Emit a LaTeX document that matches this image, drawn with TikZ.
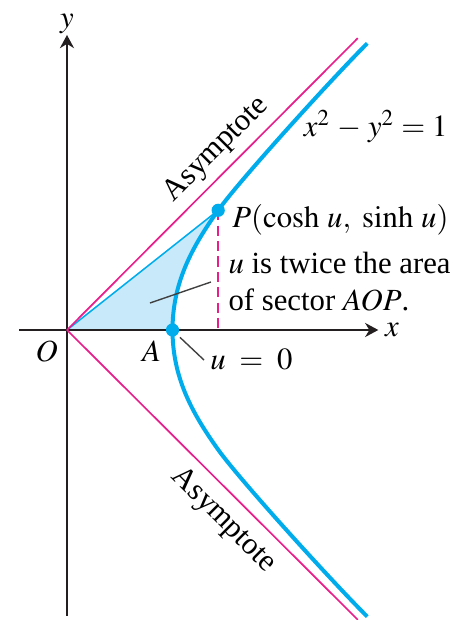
\documentclass[tikz,border=0pt]{standalone}
\usepackage{mathptmx}
\usepackage{fontspec}
\setmainfont{Liberation Serif}
\usepackage{tikz}
\usetikzlibrary{arrows.meta, calc}
\usepackage{xcolor}
\definecolor{hypblue}{RGB}{0,172,236}
\definecolor{asympink}{RGB}{232,30,140}
\definecolor{sectorblue}{RGB}{200,233,250}
\definecolor{axisgray}{RGB}{35,31,32}

% right branch of x^2 - y^2 = 1, from the bottom end through A and P to the top end
\newcommand{\hypcurve}{(2.86,-2.73) .. controls (2.506,-2.376) and (1.643,-1.424) .. (1.44,-1.14)
  .. controls (1.19,-0.79) and (1.005,-0.45) .. (1.005,0)
  .. controls (1.005,0.45) and (1.19,0.79) .. (1.44,1.14)
  .. controls (1.643,1.424) and (2.506,2.376) .. (2.86,2.73)}

\begin{document}
\begin{tikzpicture}[x=1.2cm, y=1.2cm, font=\normalsize,
  axis/.style={axisgray, line width=0.5pt, -{Stealth[length=4.3pt, width=4.6pt]}},
  asym/.style={asympink, line width=0.55pt},
  hyp/.style={hypblue, line width=1.3pt},
  dot/.style={circle, fill=hypblue, inner sep=0pt, minimum size=4.3pt},
  leader/.style={black!75, line width=0.45pt}]
  \useasboundingbox (-0.638,-2.762) rectangle (3.733,3.143);
  \coordinate (O) at (0,0);
  \coordinate (A) at (1.005,0);
  \coordinate (P) at (1.44,1.14);
  % sector AOP: the triangle O-P-foot cut down to the left side of the branch
  \begin{scope}
    \clip (O) -- (P) -- (P |- O) -- cycle;
    \fill[sectorblue] \hypcurve -- (O) -- cycle;
  \end{scope}
  \draw[hypblue, line width=0.5pt] (O) -- (P);

  \coordinate (xl) at (-0.457,0);
  \coordinate (xr) at (2.965,0);
  \coordinate (yb) at (0,-2.72);
  \coordinate (yt) at (0,2.81);
  \draw[axis] (xl) -- (xr) node[right, inner sep=2pt, black] (xlab) {$x$};
  \draw[axis] (yb) -- (yt) node[above, inner sep=0pt, black] (ylab) {$y$};

  \coordinate (au) at (2.77,2.78);
  \coordinate (ad) at (2.77,-2.76);
  \draw[asym] (O) -- (au) node[pos=0.567, sloped, above, inner sep=2.3pt, text=black] (asylabu) {Asymptote};
  \draw[asym] (O) -- (ad) node[pos=0.598, sloped, below, text=black] (asylabd) {Asymptote};
  \draw[asympink, line width=0.55pt, dash pattern=on 3.3pt off 1.7pt] (P) -- (P |- O);

  \draw[hyp] \hypcurve;
  \node[dot] (adot) at (A) {};
  \node[dot] (pdot) at (P) {};

  \node[anchor=base west, inner sep=0pt] (eq) at (2.25,1.84) {$x^2 \mathrel{-} y^2 = 1$};
  \node[anchor=base west, inner sep=0pt] (plab) at (1.57,0.98) {$P(\mathrm{cosh}\ u,\ \mathrm{sinh}\ u)$};
  \node[anchor=north west, align=left, inner sep=0pt] (note) at (1.533,0.743) {$u$ is twice the area\\ of sector $AOP$.};
  \node (olab) at (-0.194,-0.206) {$O$};
  \node (alab) at (0.806,-0.206) {$A$};
  \node[anchor=base west, inner sep=0pt] (uzero) at (1.36,-0.38) {$u \;=\; 0$};

  \coordinate (sectorpt) at (0.79,0.257);
  \coordinate (notept) at (1.371,0.457);
  \draw[leader] (sectorpt) -- (notept);
  \coordinate (vtxpt) at (1.076,-0.07);
  \coordinate (zeropt) at (1.305,-0.286);
  \draw[leader] (vtxpt) -- (zeropt);
\end{tikzpicture}
\end{document}
